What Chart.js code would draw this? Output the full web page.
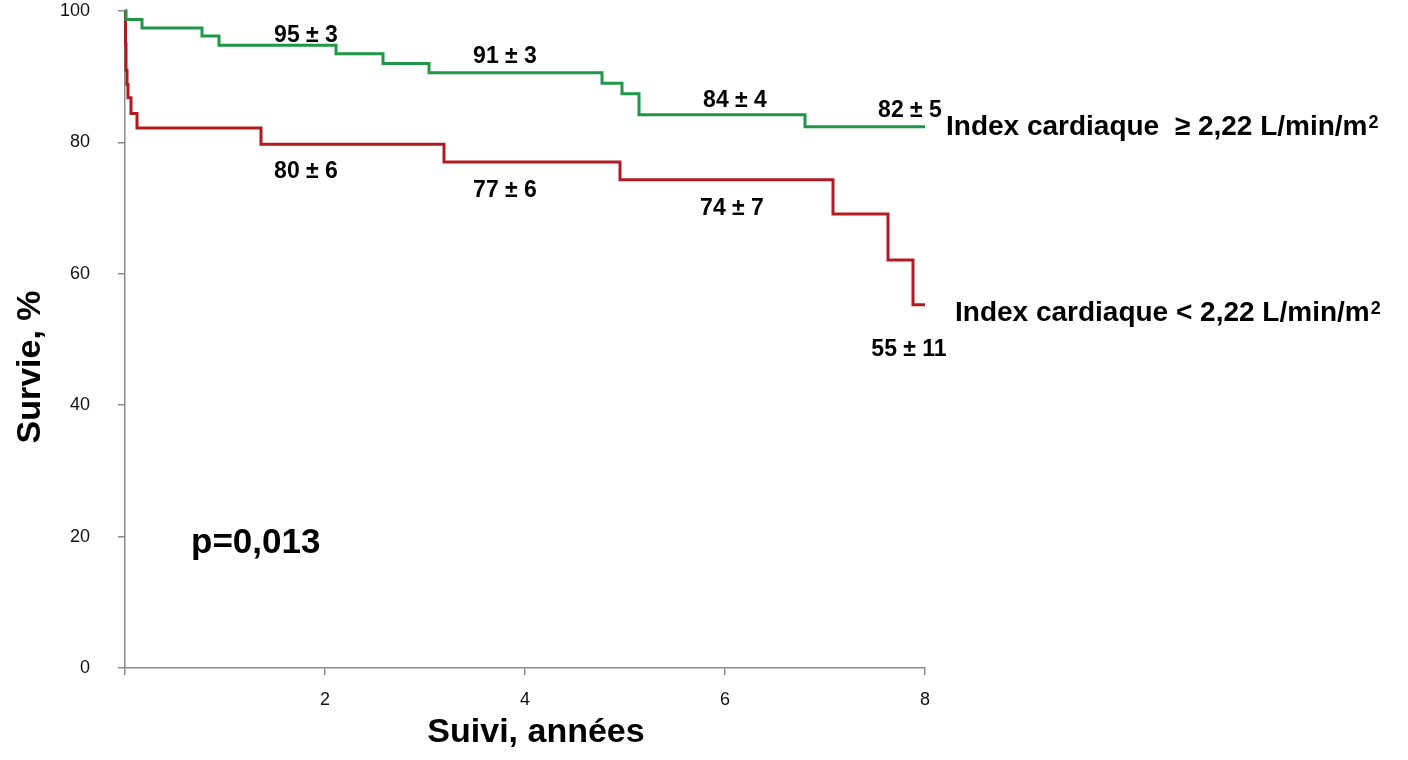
<!DOCTYPE html>
<html>
<head>
<meta charset="utf-8">
<script src="https://cdn.jsdelivr.net/npm/chart.js@4.4.1/dist/chart.umd.min.js"></script>
<style>
  html, body { margin: 0; padding: 0; background: #fff; }
  #wrap { width: 1408px; height: 760px; }
</style>
</head>
<body>
<div id="wrap"><canvas id="km"></canvas></div>
<script>
// Kaplan-Meier survival
var highTimes = [0, 0.01, 0.17, 0.77, 0.94, 2.11, 2.58, 3.04, 4.77, 4.97, 5.14, 6.80, 8.0];
var highSurv  = [100, 98.7, 97.4, 96.2, 94.8, 93.5, 92.0, 90.6, 89.0, 87.4, 84.2, 82.4, 82.4];

var lowTimes = [0, 0.005, 0.01, 0.02, 0.03, 0.06, 0.12, 1.36, 3.19, 4.95, 7.08, 7.63, 7.88, 8.0];
var lowSurv  = [100, 95, 91, 88.8, 86.8, 84.4, 82.2, 79.7, 77.0, 74.3, 69.1, 62.1, 55.3, 55.3];

var xTicks = [0, 2, 4, 6, 8];
var yTicks = [0, 20, 40, 60, 80, 100];

// survival estimates printed along the curves (anchored in data units)
var highEstimates = ['95 ± 3', '91 ± 3', '84 ± 4', '82 ± 5'];
var highEstAt = [[1.81, 95.35], [3.80, 92.15], [6.10, 85.45], [7.85, 83.93]];
var lowEstimates = ['80 ± 6', '77 ± 6', '74 ± 7', '55 ± 11'];
var lowEstAt = [[1.81, 74.64], [3.80, 71.74], [6.07, 69.0], [7.84, 47.5]];

var GREEN = '#1f9648';
var RED = '#b01b22';
var AXIS = '#8a8a8a';
var FONT = '"Liberation Sans", Arial, sans-serif';

function toPoints(xs, ys) {
    return xs.map(function (x, i) { return { x: x, y: ys[i] }; });
}

var textPlugin = {
    id: 'kmText',
    afterDraw: function (chart) {
        var ctx = chart.ctx;
        var xs = chart.scales.x, ys = chart.scales.y;
        ctx.save();
        ctx.fillStyle = '#000';
        ctx.textBaseline = 'alphabetic';
        ctx.textAlign = 'center';
        ctx.font = 'bold 23px ' + FONT;
        highEstimates.forEach(function (t, i) {
            ctx.fillText(t, xs.getPixelForValue(highEstAt[i][0]), ys.getPixelForValue(highEstAt[i][1]));
        });
        lowEstimates.forEach(function (t, i) {
            ctx.fillText(t, xs.getPixelForValue(lowEstAt[i][0]), ys.getPixelForValue(lowEstAt[i][1]));
        });

        // curve names with superscript
        ctx.textAlign = 'left';
        var names = [
            ['Index cardiaque  \u2265 2,22 L/min/m', 946, 135],
            ['Index cardiaque < 2,22 L/min/m', 955, 321]
        ];
        names.forEach(function (n) {
            ctx.font = 'bold 28px ' + FONT;
            ctx.fillText(n[0], n[1], n[2]);
            var w = ctx.measureText(n[0]).width;
            ctx.font = 'bold 18px ' + FONT;
            ctx.fillText('2', n[1] + w + 1, n[2] - 7);
        });

        ctx.font = 'bold 35px ' + FONT;
        ctx.fillText('p=0,013', 191, 553);

        // axis titles
        ctx.textAlign = 'center';
        ctx.font = 'bold 34px ' + FONT;
        ctx.fillText('Suivi, années', 536, 742);
        ctx.translate(40, 367);
        ctx.rotate(-Math.PI / 2);
        ctx.fillText('Survie, %', 0, 0);
        ctx.restore();
    }
};

new Chart(document.getElementById('km'), {
    type: 'line',
    data: {
        datasets: [
            {
                label: 'Index cardiaque ≥ 2,22 L/min/m²',
                data: toPoints(highTimes, highSurv),
                borderColor: GREEN,
                borderWidth: 3,
                stepped: 'before',
                pointRadius: 0,
                fill: false,
                clip: false
            },
            {
                label: 'Index cardiaque < 2,22 L/min/m²',
                data: toPoints(lowTimes, lowSurv),
                borderColor: RED,
                borderWidth: 3,
                stepped: 'before',
                pointRadius: 0,
                fill: false,
                clip: false
            }
        ]
    },
    options: {
        responsive: true,
        maintainAspectRatio: false,
        animation: false,
        layout: { padding: { left: 0, right: 483, top: 11, bottom: 0 } },
        plugins: {
            legend: { display: false },
            tooltip: { enabled: false }
        },
        scales: {
            x: {
                type: 'linear',
                min: 0,
                max: 8,
                afterBuildTicks: function (scale) {
                    scale.ticks = xTicks.map(function (v) { return { value: v }; });
                },
                afterFit: function (scale) { scale.height = 92; },
                grid: { drawOnChartArea: false, drawTicks: true, tickLength: 7, color: AXIS, lineWidth: 1.5 },
                border: { color: AXIS, width: 1.5 },
                ticks: {
                    padding: 14,
                    color: '#111',
                    font: { family: FONT, size: 18 },
                    maxRotation: 0,
                    callback: function (v) { return v === 0 ? '' : v; }
                }
            },
            y: {
                type: 'linear',
                min: 0,
                max: 100,
                afterBuildTicks: function (scale) {
                    scale.ticks = yTicks.map(function (v) { return { value: v }; });
                },
                afterFit: function (scale) {
                    scale.width = 125;
                    scale.paddingTop = 0;
                    scale.paddingBottom = 0;
                },
                grid: { drawOnChartArea: false, drawTicks: true, tickLength: 7, color: AXIS, lineWidth: 1.5 },
                border: { color: AXIS, width: 1.5 },
                ticks: {
                    padding: 28,
                    color: '#111',
                    font: { family: FONT, size: 18 }
                }
            }
        }
    },
    plugins: [textPlugin]
});
</script>
</body>
</html>
